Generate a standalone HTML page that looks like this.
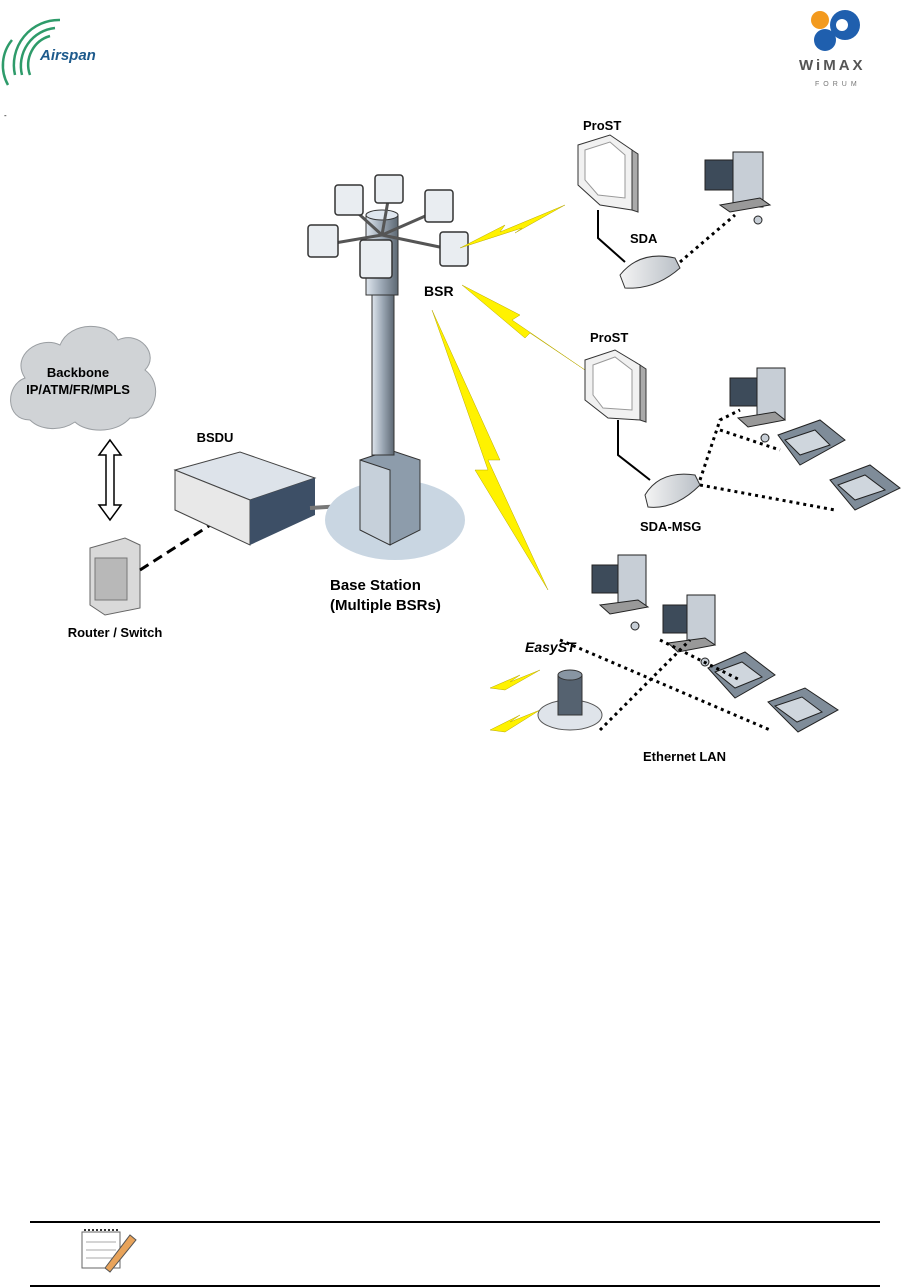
<!DOCTYPE html>
<html><head><meta charset="utf-8"><style>
html,body{margin:0;padding:0;background:#fff;}
svg{display:block;font-family:"Liberation Sans",Arial,sans-serif;}
</style></head><body>
<svg width="911" height="1288" viewBox="0 0 911 1288" xmlns="http://www.w3.org/2000/svg">
<defs>
<linearGradient id="gm" x1="0" x2="1"><stop offset="0" stop-color="#f4f4f4"/><stop offset="1" stop-color="#b9bfc6"/></linearGradient>
<linearGradient id="pole" x1="0" x2="1"><stop offset="0" stop-color="#dfe6ee"/><stop offset="0.5" stop-color="#9aa6b3"/><stop offset="1" stop-color="#5d6873"/></linearGradient>
</defs>
<g fill="none" stroke="#2e9b6a" stroke-width="2.5">
<path d="M60 20 A45 45 0 0 0 15 75"/><path d="M55 28 A38 38 0 0 0 22 75"/><path d="M50 36 A30 30 0 0 0 30 75"/><path d="M12 40 A40 40 0 0 0 8 85"/>
</g>
<text x="40" y="60" font-size="15" font-style="italic" font-weight="bold" fill="#1d5a8c">Airspan</text>
<circle cx="820" cy="20" r="9" fill="#f39a1e"/>
<circle cx="845" cy="25" r="15" fill="#1f5fae"/>
<circle cx="825" cy="40" r="11" fill="#1f5fae"/>
<circle cx="842" cy="25" r="6" fill="#fff"/>
<text x="799" y="70" font-size="15" font-weight="bold" fill="#555" letter-spacing="3">WiMAX</text>
<text x="815" y="86" font-size="7" fill="#777" letter-spacing="4">FORUM</text>
<text x="4" y="118" font-size="8">-</text>
<path d="M30 420 C5 420 5 385 25 378 C10 355 40 335 60 345 C70 320 110 322 118 340 C140 330 160 355 145 370 C165 385 155 420 130 418 C115 435 85 432 75 422 C60 432 40 430 30 420Z" fill="#d0d3d6" stroke="#9a9ea2"/>
<text x="78" y="377" font-size="13" font-weight="bold" text-anchor="middle">Backbone</text>
<text x="78" y="394" font-size="13" font-weight="bold" text-anchor="middle">IP/ATM/FR/MPLS</text>
<path d="M110 440 L99 455 L106 455 L106 505 L99 505 L110 520 L121 505 L114 505 L114 455 L121 455Z" fill="#fff" stroke="#000" stroke-width="1.5"/>
<path d="M90 548 L125 538 L140 545 L140 608 L105 615 L90 605Z" fill="#d9d9d9" stroke="#666"/>
<rect x="95" y="558" width="32" height="42" fill="#b8b8b8" stroke="#777"/>
<text x="115" y="637" font-size="13" font-weight="bold" text-anchor="middle">Router / Switch</text>
<line x1="140" y1="570" x2="215" y2="522" stroke="#000" stroke-width="3" stroke-dasharray="10,6"/>
<text x="215" y="442" font-size="13" font-weight="bold" text-anchor="middle">BSDU</text>
<path d="M175 470 L240 452 L315 478 L250 500Z" fill="#dde3ea" stroke="#444"/>
<path d="M175 470 L250 500 L250 545 L175 510Z" fill="#e8e8e8" stroke="#444"/>
<path d="M250 500 L315 478 L315 515 L250 545Z" fill="#3d4f66"/>
<line x1="310" y1="508" x2="360" y2="505" stroke="#777" stroke-width="4"/>
<ellipse cx="395" cy="520" rx="70" ry="40" fill="#c9d6e2"/>
<path d="M360 460 L390 450 L420 460 L420 530 L390 545 L360 530Z" fill="#8d9cab" stroke="#333"/>
<path d="M360 460 L390 470 L390 545 L360 530Z" fill="#c6d0da" stroke="#333"/>
<rect x="372" y="250" width="22" height="205" fill="url(#pole)" stroke="#333"/>
<rect x="366" y="215" width="32" height="80" fill="url(#pole)" stroke="#333"/>
<ellipse cx="382" cy="215" rx="16" ry="5" fill="#dfe6ee" stroke="#333"/>
<g stroke="#555" stroke-width="3">
<line x1="349" y1="205" x2="382" y2="235"/><line x1="389" y1="195" x2="382" y2="235"/><line x1="439" y1="210" x2="382" y2="235"/>
<line x1="323" y1="245" x2="382" y2="235"/><line x1="454" y1="250" x2="382" y2="235"/>
</g>
<g fill="#e9edf1" stroke="#333" stroke-width="1.5">
<rect x="335" y="185" width="28" height="30" rx="3"/>
<rect x="375" y="175" width="28" height="28" rx="3"/>
<rect x="425" y="190" width="28" height="32" rx="3"/>
<rect x="308" y="225" width="30" height="32" rx="3"/>
<rect x="440" y="232" width="28" height="34" rx="3"/>
<rect x="360" y="240" width="32" height="38" rx="3"/>
</g>
<text x="424" y="296" font-size="14" font-weight="bold">BSR</text>
<g fill="#fff200" stroke="#b8a800" stroke-width="0.5">
<path d="M460 248 L505 225 L500 232 L565 205 L515 233 L522 228 Z"/>
<path d="M462 285 L520 315 L512 320 L585 370 L530 333 L525 338 Z"/>
<path d="M432 310 L500 460 L488 460 L548 590 L475 470 L488 470 Z"/>
<path d="M490 688 L520 675 L510 682 L540 670 L505 690Z"/>
<path d="M490 730 L520 715 L510 722 L540 710 L505 732Z"/>
</g>
<text x="583" y="130" font-size="13" font-weight="bold">ProST</text>
<path d="M578 145 L610 135 L632 150 L632 210 L600 205 L578 185Z" fill="#f1f1f1" stroke="#333"/>
<path d="M585 150 L610 142 L625 155 L625 198 L598 195 L585 180Z" fill="#fff" stroke="#999"/>
<path d="M632 150 L638 154 L638 212 L632 210Z" fill="#aaa" stroke="#333"/>
<path d="M598 210 L598 238 L625 262" fill="none" stroke="#000" stroke-width="2"/>
<text x="630" y="243" font-size="13" font-weight="bold">SDA</text>
<path d="M620 275 Q640 250 675 258 L680 268 Q655 290 625 288Z" fill="url(#gm)" stroke="#333"/>
<line x1="680" y1="262" x2="735" y2="215" stroke="#000" stroke-width="3" stroke-dasharray="3,4"/>
<g stroke="#222" fill="#c7ced6">
<rect x="705" y="160" width="28" height="30" fill="#3d4b5a"/><rect x="733" y="152" width="30" height="55"/>
<path d="M720 205 L760 198 L770 205 L730 212Z" fill="#999"/><circle cx="758" cy="220" r="4"/>
</g>
<text x="590" y="342" font-size="13" font-weight="bold">ProST</text>
<path d="M585 360 L615 350 L640 365 L640 420 L608 418 L585 400Z" fill="#f1f1f1" stroke="#333"/>
<path d="M593 365 L615 357 L632 370 L632 410 L603 408 L593 395Z" fill="#fff" stroke="#999"/>
<path d="M640 365 L646 369 L646 422 L640 420Z" fill="#aaa" stroke="#333"/>
<path d="M618 420 L618 455 L650 480" fill="none" stroke="#000" stroke-width="2"/>
<path d="M645 495 Q660 470 695 475 L700 485 Q675 510 648 507Z" fill="url(#gm)" stroke="#333"/>
<text x="640" y="531" font-size="13" font-weight="bold">SDA-MSG</text>
<path d="M700 480 L720 420 L740 410 M700 485 L835 510" fill="none" stroke="#000" stroke-width="3" stroke-dasharray="3,4"/>
<line x1="720" y1="430" x2="780" y2="450" stroke="#000" stroke-width="3" stroke-dasharray="3,4"/>
<g stroke="#222" fill="#c7ced6">
<rect x="730" y="378" width="28" height="28" fill="#3d4b5a"/><rect x="757" y="368" width="28" height="52"/>
<path d="M738 418 L775 412 L785 420 L748 427Z" fill="#999"/><circle cx="765" cy="438" r="4"/>
</g>
<g stroke="#222">
<path d="M778 435 L820 420 L845 440 L800 465Z" fill="#7f8c99"/><path d="M785 440 L815 430 L830 445 L800 455Z" fill="#cfd6dd"/>
<path d="M830 480 L870 465 L900 488 L855 510Z" fill="#7f8c99"/><path d="M838 485 L865 475 L885 490 L855 500Z" fill="#cfd6dd"/>
<path d="M708 668 L745 652 L775 675 L735 698Z" fill="#7f8c99"/><path d="M715 672 L742 662 L762 677 L735 688Z" fill="#cfd6dd"/>
<path d="M768 702 L805 688 L838 710 L798 732Z" fill="#7f8c99"/><path d="M775 706 L802 697 L822 712 L797 722Z" fill="#cfd6dd"/>
</g>
<g stroke="#222" fill="#c7ced6">
<rect x="592" y="565" width="26" height="28" fill="#3d4b5a"/><rect x="618" y="555" width="28" height="52"/>
<path d="M600 605 L638 600 L648 607 L610 614Z" fill="#999"/><circle cx="635" cy="626" r="4"/>
<rect x="663" y="605" width="24" height="28" fill="#3d4b5a"/><rect x="687" y="595" width="28" height="50"/>
<path d="M668 643 L705 638 L715 645 L678 652Z" fill="#999"/><circle cx="705" cy="662" r="4"/>
</g>
<text x="525" y="652" font-size="14" font-weight="bold" font-style="italic">EasyST</text>
<g fill="none" stroke="#000" stroke-width="3" stroke-dasharray="3,4">
<path d="M560 640 L770 730"/><path d="M600 730 L690 640"/><path d="M660 640 L740 680"/>
</g>
<ellipse cx="570" cy="715" rx="32" ry="15" fill="#dfe4ea" stroke="#555"/>
<rect x="558" y="675" width="24" height="40" fill="#556270" stroke="#333"/>
<ellipse cx="570" cy="675" rx="12" ry="5" fill="#8895a2" stroke="#333"/>
<text x="643" y="761" font-size="13" font-weight="bold">Ethernet LAN</text>
<text x="330" y="590" font-size="15" font-weight="bold">Base Station</text>
<text x="330" y="610" font-size="15" font-weight="bold">(Multiple BSRs)</text>
<line x1="30" y1="1222" x2="880" y2="1222" stroke="#000" stroke-width="2"/>
<line x1="30" y1="1286" x2="880" y2="1286" stroke="#000" stroke-width="2"/>
<rect x="82" y="1232" width="38" height="36" fill="#fff" stroke="#666"/>
<g stroke="#aaa"><line x1="86" y1="1242" x2="116" y2="1242"/><line x1="86" y1="1250" x2="116" y2="1250"/><line x1="86" y1="1258" x2="116" y2="1258"/></g>
<path d="M84 1230 h34" stroke="#333" stroke-width="2" stroke-dasharray="2,2"/>
<path d="M105 1268 L130 1235 L136 1240 L110 1272Z" fill="#e8a35a" stroke="#555"/>
</svg>
</body></html>
